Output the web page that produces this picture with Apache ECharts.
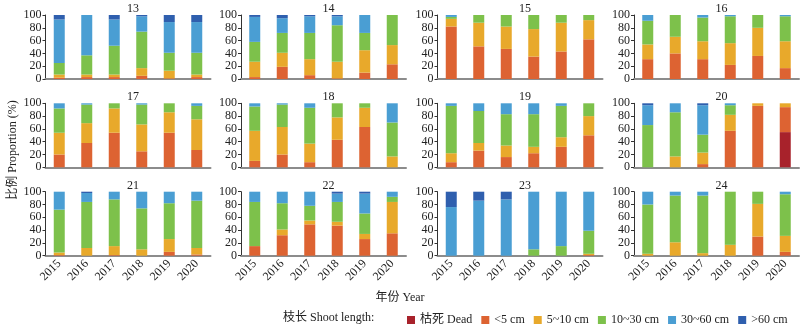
<!DOCTYPE html>
<html><head><meta charset="utf-8">
<script src="https://cdn.jsdelivr.net/npm/echarts@6/dist/echarts.min.js"></script>
<style>html,body{margin:0;padding:0;background:#fff}#c{width:800px;height:326px}</style>
</head><body><div id="c"></div>
<script>
const years = ['2015','2016','2017','2018','2019','2020'];
const panels = ['13','14','15','16','17','18','19','20','21','22','23','24'];
const yTicks = [0,20,40,60,80,100];
const seriesNames = ['枯死 Dead','<5 cm','5~10 cm','10~30 cm','30~60 cm','>60 cm'];
const colors = ['#a8222b','#dd6332','#e8a92b','#7dc14b','#4a9ed3','#2f5fae'];

const dead = [
 [0,0,0,0,0,0],[0,0,0,0,0,0],[0,0,0,0,0,0],[0,0,0,0,0,0],
 [0,0,0,0,0,0],[0,0,0,0,0,0],[0,0,0,0,0,0],[0,0,0,0,0,55],
 [0,0,0,0,0,0],[0,0,0,0,0,0],[0,0,0,0,0,0],[0,0,0,0,0,0]];
const lt5 = [
 [2,3,3,5,1,3],[3,19,6,1,10,23],[82,51,47,35,43,62],[31,40,31,22,36,17],
 [20,38,54,25,54,27],[10,20,8,43,63,0],[8,26,16,22,32,50],[0,0,5,57,96,39],
 [1,0,1,0,6,2],[15,32,49,47,26,35],[0,0,0,0,0,1],[0,0,0,0,30,6]];
const s5to10 = [
 [5,4,4,12,12,4],[24,22,25,26,35,30],[12,37,35,43,45,30],[23,26,28,34,44,42],
 [34,31,38,42,32,48],[47,43,29,35,30,17],[14,12,18,10,15,30],[0,17,18,25,4,6],
 [4,12,14,10,20,10],[0,9,6,6,8,49],[0,0,0,0,0,2],[3,21,4,17,51,25]];
const s10to30 = [
 [18,30,45,57,28,34],[31,31,41,57,27,47],[3,12,18,22,12,8],[37,34,37,42,20,39],
 [38,29,8,31,14,21],[38,35,56,22,7,53],[74,50,49,51,49,20],[66,69,28,15,0,0],
 [67,72,73,64,56,74],[69,41,23,31,32,8],[0,0,0,10,15,36],[77,73,90,83,19,65]];
const s30to60 = [
 [68,63,41,24,48,48],[39,23,26,14,28,0],[3,0,0,0,0,0],[9,0,4,2,0,2],
 [8,2,0,2,0,4],[5,2,7,0,0,30],[4,12,17,17,4,0],[31,14,46,3,0,0],
 [28,14,12,26,18,14],[16,18,22,13,31,8],[76,86,88,90,85,61],[20,6,6,0,0,4]];
const gt60 = [
 [7,0,7,2,11,11],[3,5,2,2,0,0],[0,0,0,0,0,0],[0,0,0,0,0,0],
 [0,0,0,0,0,0],[0,0,0,0,0,0],[0,0,0,0,0,0],[3,0,3,0,0,0],
 [0,2,0,0,0,0],[0,0,0,3,3,0],[24,14,12,0,0,0],[0,0,0,0,0,0]];
const classes = [dead, lt5, s5to10, s10to30, s30to60, gt60];

const FONT = '"Liberation Serif","Noto Sans CJK SC",serif';
const colLeft = [45.5, 241, 437.5, 634];
const rowTop = [15, 103.3, 191.7];
const W = 165, H = 64;

const grid = [], xAxis = [], yAxis = [], series = [], title = [];
panels.forEach((p, i) => {
  const r = Math.floor(i / 4), c = i % 4;
  grid.push({left: colLeft[c], top: rowTop[r], width: W, height: H});
  title.push({text: p, left: colLeft[c] + W / 2, top: rowTop[r] - 17, textAlign: 'center',
    textStyle: {fontFamily: FONT, fontSize: 12, fontWeight: 'normal', color: '#222'}});
  xAxis.push({type: 'category', gridIndex: i, data: years,
    axisLine: {lineStyle: {color: '#8c8c8c', width: 2}}, axisTick: {show: false},
    axisLabel: {show: r === 2, rotate: 45, fontFamily: FONT, fontSize: 12, color: '#222', margin: 6}});
  yAxis.push({type: 'value', gridIndex: i, min: 0, max: 100, interval: 20,
    axisLine: {show: true, lineStyle: {color: '#333', width: 1}},
    axisTick: {show: true, length: 3, lineStyle: {color: '#333'}},
    splitLine: {show: false},
    axisLabel: {fontFamily: FONT, fontSize: 12, color: '#222', margin: 4,
      formatter: v => yTicks.includes(v) ? String(v) : ''}});
  classes.forEach((arr, k) => {
    series.push({name: seriesNames[k], type: 'bar', stack: 's' + i, xAxisIndex: i, yAxisIndex: i,
      data: arr[i], barWidth: '40%', itemStyle: {color: colors[k]}, silent: true});
  });
});

const chart = echarts.init(document.getElementById('c'), null, {renderer: 'canvas'});
chart.setOption({
  animation: false,
  title, grid, xAxis, yAxis, series,
  legend: {data: seriesNames, left: 402, top: 309, width: 420, itemWidth: 8, itemHeight: 8, itemGap: 9,
    icon: 'rect', textStyle: {fontFamily: FONT, fontSize: 12, color: '#222'}},
  graphic: [
    {type: 'text', left: 283, top: 312, style: {text: '枝长 Shoot length:', font: '12px ' + FONT, fill: '#222'}},
    {type: 'text', left: 'center', top: 292, style: {text: '年份 Year', font: '12px ' + FONT, fill: '#222'}},
    {type: 'text', x: 13, y: 150, rotation: Math.PI / 2, style: {text: '比例 Proportion (%)', font: '12px ' + FONT, fill: '#222', align: 'center', verticalAlign: 'middle'}}
  ]
});
</script></body></html>
